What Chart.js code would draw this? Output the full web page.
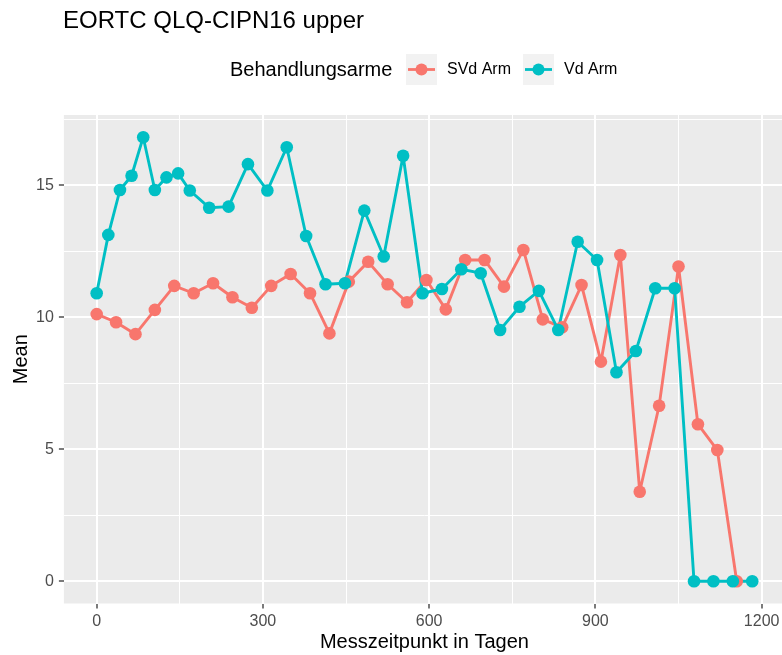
<!DOCTYPE html>
<html>
<head>
<meta charset="utf-8">
<script src="https://cdn.jsdelivr.net/npm/chart.js@4.4.1/dist/chart.umd.min.js"></script>
<style>
  html, body { margin: 0; padding: 0; background: #fff; overflow: hidden; }
  #wrap { position: absolute; left: 0; top: 0; width: 800px; height: 655px; }
</style>
</head>
<body>
<div id="wrap"><canvas id="chart" width="800" height="655"></canvas></div>
<script>
// Daten
const svdDays = [0, 35, 70, 105, 140, 175, 210, 245, 280, 315, 350, 385, 420, 455, 490, 525, 560,
  595, 630, 665, 700, 735, 770, 805, 840, 875, 910, 945, 980, 1015, 1050, 1085, 1120, 1155];
const svdMean = [10.12, 9.81, 9.36, 10.28, 11.19, 10.91, 11.29, 10.76, 10.36, 11.19, 11.64, 10.91,
  9.39, 11.35, 12.1, 11.25, 10.57, 11.41, 10.3, 12.17, 12.17, 11.16, 12.55, 9.92, 9.62, 11.22,
  8.32, 12.36, 3.39, 6.65, 11.92, 5.95, 4.97, 0];

const vdDays = [0, 21, 42, 63, 84, 105, 126, 147, 168, 203, 238, 273, 308, 343, 378, 413, 448, 483,
  518, 553, 588, 623, 658, 693, 728, 763, 798, 833, 868, 903, 938, 973, 1008, 1043, 1078, 1113, 1148, 1183];
const vdMean = [10.91, 13.12, 14.82, 15.36, 16.82, 14.82, 15.3, 15.45, 14.8, 14.15, 14.19, 15.8,
  14.8, 16.44, 13.08, 11.25, 11.29, 14.04, 12.3, 16.12, 10.91, 11.07, 11.82, 11.67, 9.52, 10.4,
  11.0, 9.52, 12.86, 12.17, 7.92, 8.72, 11.1, 11.1, 0, 0, 0, 0];

const seriesNames = ["SVd Arm", "Vd Arm"];
const seriesColors = ["#F8766D", "#00BFC4"];

const xMajor = [0, 300, 600, 900, 1200];
const xMinor = [150, 450, 750, 1050];
const yMajor = [0, 5, 10, 15];
const yMinor = [2.5, 7.5, 12.5, 17.5];

const titleText = "EORTC QLQ-CIPN16 upper";
const legendTitle = "Behandlungsarme";
const xTitle = "Messzeitpunkt in Tagen";
const yTitle = "Mean";

const FONT = "'Liberation Sans', Arial, sans-serif";

function toXY(xs, ys) {
  return xs.map((x, i) => ({ x: x, y: ys[i] }));
}

// ggplot-artige Achsengrenzen (5% Erweiterung)
const allX = svdDays.concat(vdDays);
const allY = svdMean.concat(vdMean);
const xMin = Math.min(...allX), xMax = Math.max(...allX);
const yMin = Math.min(...allY), yMax = Math.max(...allY);
const xPad = (xMax - xMin) * 0.05, yPad = (yMax - yMin) * 0.05;

const panelBg = {
  id: "panelBg",
  beforeDraw(chart) {
    const { ctx, chartArea: a } = chart;
    ctx.save();
    ctx.fillStyle = "#EBEBEB";
    ctx.fillRect(a.left, a.top, a.right - a.left, a.bottom - a.top);
    ctx.restore();
  }
};

const decorations = {
  id: "decorations",
  afterDraw(chart) {
    const { ctx, chartArea: a } = chart;
    ctx.save();
    ctx.fillStyle = "#000";
    ctx.textBaseline = "middle";

    // Titel
    ctx.font = "24px " + FONT;
    ctx.textAlign = "left";
    ctx.fillText(titleText, 63, 21);

    // Legende
    ctx.font = "20px " + FONT;
    ctx.fillText(legendTitle, 230, 70);
    const keys = [406, 523];
    ctx.font = "16px " + FONT;
    keys.forEach((kx, i) => {
      ctx.fillStyle = "#F2F2F2";
      ctx.fillRect(kx, 54, 31, 31);
      ctx.strokeStyle = seriesColors[i];
      ctx.lineWidth = 2.8;
      ctx.beginPath();
      ctx.moveTo(kx + 2, 69.5);
      ctx.lineTo(kx + 29, 69.5);
      ctx.stroke();
      ctx.fillStyle = seriesColors[i];
      ctx.beginPath();
      ctx.arc(kx + 15.5, 69.5, 6, 0, Math.PI * 2);
      ctx.fill();
      ctx.fillStyle = "#000";
      ctx.fillText(seriesNames[i], kx + 41, 70);
    });

    // Achsentitel
    ctx.font = "20px " + FONT;
    ctx.textAlign = "center";
    ctx.fillText(xTitle, (a.left + a.right) / 2, 642);
    ctx.translate(21, (a.top + a.bottom) / 2);
    ctx.rotate(-Math.PI / 2);
    ctx.fillText(yTitle, 0, 0);
    ctx.restore();
  }
};

function gridOpts(majors) {
  return {
    color: "#FFFFFF",
    lineWidth: c => (majors.includes(c.tick.value) ? 2 : 1),
    drawTicks: true,
    tickLength: 5,
    tickColor: c => (majors.includes(c.tick.value) ? "#333333" : "rgba(0,0,0,0)"),
    tickWidth: 1.3
  };
}

const ctx = document.getElementById("chart").getContext("2d");
new Chart(ctx, {
  type: "line",
  data: {
    datasets: [
      { label: seriesNames[1] + " Punkte", data: toXY(vdDays, vdMean), showLine: false,
        pointRadius: 6.3, pointHoverRadius: 6.3, pointBackgroundColor: seriesColors[1], pointBorderWidth: 0, order: 0 },
      { label: seriesNames[0] + " Punkte", data: toXY(svdDays, svdMean), showLine: false,
        pointRadius: 6.3, pointHoverRadius: 6.3, pointBackgroundColor: seriesColors[0], pointBorderWidth: 0, order: 1 },
      { label: seriesNames[1], data: toXY(vdDays, vdMean), borderColor: seriesColors[1],
        borderWidth: 2.9, borderJoinStyle: "round", borderCapStyle: "round",
        pointRadius: 0, tension: 0, order: 2 },
      { label: seriesNames[0], data: toXY(svdDays, svdMean), borderColor: seriesColors[0],
        borderWidth: 2.9, borderJoinStyle: "round", borderCapStyle: "round",
        pointRadius: 0, tension: 0, order: 3 }
    ]
  },
  options: {
    responsive: false,
    animation: false,
    events: [],
    layout: { padding: { left: 0, top: 115, right: 15, bottom: 0 } },
    plugins: { legend: { display: false }, title: { display: false }, tooltip: { enabled: false } },
    scales: {
      x: {
        type: "linear",
        min: xMin - xPad,
        max: xMax + xPad,
        afterBuildTicks: s => { s.ticks = xMajor.concat(xMinor).sort((a, b) => a - b).map(v => ({ value: v })); },
        afterFit: s => { s.height = 51.5; },
        grid: gridOpts(xMajor),
        border: { display: false },
        ticks: {
          padding: 3,
          color: "#4D4D4D",
          font: { family: FONT, size: 16 },
          callback: v => (xMajor.includes(v) ? String(v) : "")
        }
      },
      y: {
        type: "linear",
        min: yMin - yPad,
        max: yMax + yPad,
        afterBuildTicks: s => { s.ticks = yMajor.concat(yMinor).sort((a, b) => a - b).map(v => ({ value: v })); },
        afterFit: s => { s.width = 63.9; },
        grid: gridOpts(yMajor),
        border: { display: false },
        ticks: {
          padding: 5,
          color: "#4D4D4D",
          font: { family: FONT, size: 16 },
          callback: v => (yMajor.includes(v) ? String(v) : "")
        }
      }
    }
  },
  plugins: [panelBg, decorations]
});
</script>
</body>
</html>
